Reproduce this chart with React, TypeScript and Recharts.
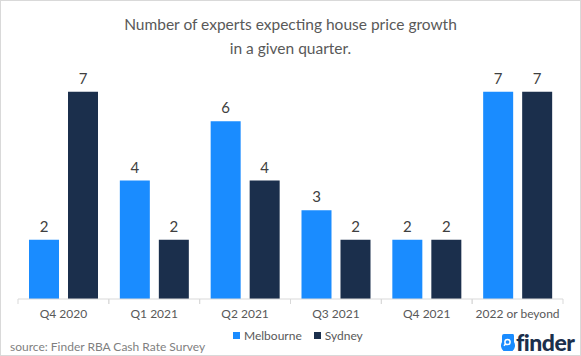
import { BarChart, Bar, XAxis, YAxis, LabelList } from 'recharts';

const quarters = ['Q4 2020', 'Q1 2021', 'Q2 2021', 'Q3 2021', 'Q4 2021', '2022 or beyond'];
const melbourne = [2, 4, 6, 3, 2, 7];
const sydney = [7, 2, 4, 2, 2, 7];

const data = quarters.map((q, i) => ({ quarter: q, Melbourne: melbourne[i], Sydney: sydney[i] }));

const W = 581;
const H = 356;
const SIDE = 18;
const BAND = (W - SIDE * 2) / quarters.length;
const FONT = 'Lato, "Open Sans", sans-serif';
const MELB = '#1a8cff';
const SYD = '#1b2f4c';

function QuarterTick({ x, y, payload }: any) {
  return (
    <g>
      <line x1={x - BAND / 2} y1={y - 8} x2={x - BAND / 2} y2={y - 3} stroke="#d9d9d9" />
      <line x1={x + BAND / 2} y1={y - 8} x2={x + BAND / 2} y2={y - 3} stroke="#d9d9d9" />
      <text x={x} y={y + 11} textAnchor="middle" fontSize={12} fill="#595959" fontFamily={FONT}>
        {payload.value}
      </text>
    </g>
  );
}

export default function App() {
  return (
    <div
      style={{
        position: 'absolute',
        left: 0,
        top: 0,
        width: W,
        height: H,
        boxSizing: 'border-box',
        border: '1px solid #d9d9d9',
        background: '#fff',
        fontFamily: FONT,
      }}
    >
      <div
        style={{
          position: 'absolute',
          top: 11,
          left: 0,
          width: '100%',
          textAlign: 'center',
          fontSize: 15.5,
          lineHeight: '24px',
          color: '#595959',
        }}
      >
        Number of experts expecting house price growth
        <br />
        in a given quarter.
      </div>
      <div style={{ position: 'absolute', left: -1, top: -1 }}>
        <BarChart
          width={W}
          height={H}
          data={data}
          margin={{ top: 62, right: SIDE, left: SIDE, bottom: 27 }}
          barSize={30}
          barGap={9}
        >
          <XAxis
            dataKey="quarter"
            height={30}
            axisLine={{ stroke: '#d9d9d9' }}
            tickLine={false}
            interval={0}
            tick={<QuarterTick />}
          />
          <YAxis hide domain={[0, 8]} />
          <Bar dataKey="Melbourne" fill={MELB} isAnimationActive={false}>
            <LabelList dataKey="Melbourne" position="top" offset={8} fontSize={15} fill="#404040" fontFamily={FONT} />
          </Bar>
          <Bar dataKey="Sydney" fill={SYD} isAnimationActive={false}>
            <LabelList dataKey="Sydney" position="top" offset={8} fontSize={15} fill="#404040" fontFamily={FONT} />
          </Bar>
        </BarChart>
      </div>
      <div style={{ position: 'absolute', left: 232, top: 327, fontSize: 12, color: '#595959', display: 'flex', alignItems: 'center' }}>
        <span style={{ width: 7, height: 7, background: MELB, marginRight: 4 }} />
        <span>Melbourne</span>
        <span style={{ width: 7, height: 7, background: SYD, marginLeft: 12, marginRight: 4 }} />
        <span>Sydney</span>
      </div>
      <div style={{ position: 'absolute', left: 9, top: 338, fontSize: 12, color: '#7f7f7f' }}>
        source: Finder RBA Cash Rate Survey
      </div>
      <div style={{ position: 'absolute', left: 499, top: 327, display: 'flex', alignItems: 'center' }}>
        <svg width={15} height={18} viewBox="0 0 15 18">
          <path d="M2 3 Q2 1 4 1 L13 1 Q14 1 14 3 L14 9 A7 7 0 1 1 2 9 Z" fill={MELB} />
          <circle cx={7.5} cy={9} r={2.6} fill="none" stroke="#fff" strokeWidth={1.5} />
          <line x1={5.7} y1={10.8} x2={4} y2={12.8} stroke="#fff" strokeWidth={1.6} />
        </svg>
        <span style={{ fontSize: 23, fontWeight: 900, color: SYD, marginLeft: 1, letterSpacing: -0.5 }}>finder</span>
      </div>
    </div>
  );
}
